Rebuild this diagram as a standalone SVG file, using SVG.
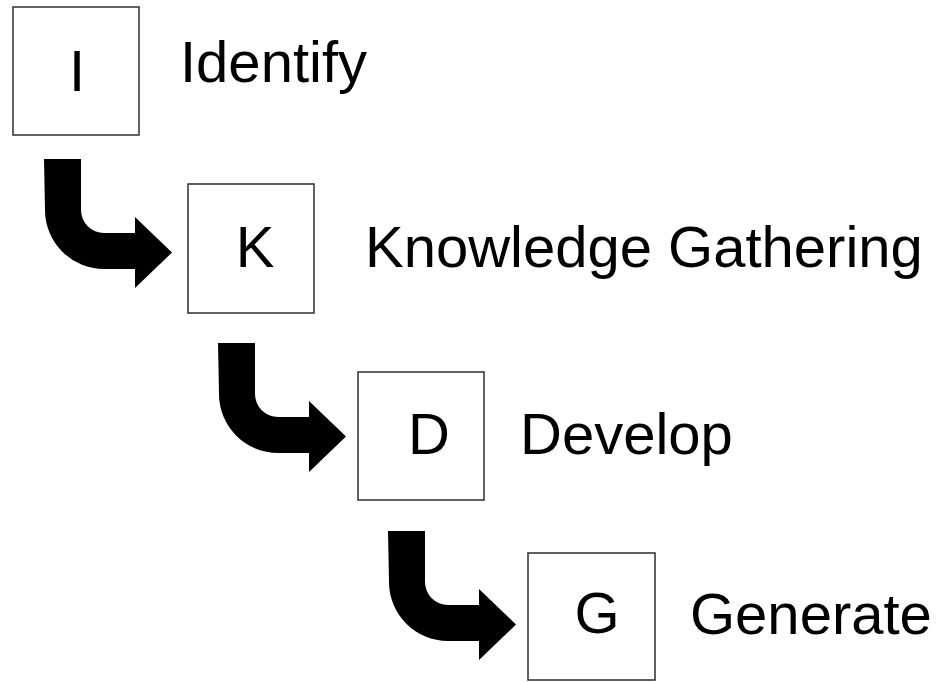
<svg xmlns="http://www.w3.org/2000/svg" width="940" height="682" viewBox="0 0 940 682">
  <defs>
    <style>
      .box { fill: #ffffff; stroke: #3a3a3a; stroke-width: 1.6; }
      .letter { font-family: "Liberation Sans", Arial, sans-serif; font-size: 58px; fill: #000; text-anchor: middle; }
      .label { font-family: "Liberation Sans", Arial, sans-serif; font-size: 58px; fill: #000; }
      .bent { fill: #000; }
    </style>
    <!-- bent arrow: stem down, rounded corner, shaft to the right, triangular head -->
    <path id="bentArrow" d="M44,159 H81 V210 A23,23 0 0 0 104,233 H135 V217 L172,252.5 L135,288 V269 H104 A59,59 0 0 1 45,210 Z"/>
  </defs>
  <rect width="940" height="682" fill="#ffffff"/>

  <g id="connectors">
    <use href="#bentArrow" class="bent"/>
    <use href="#bentArrow" class="bent" transform="translate(174,184)"/>
    <use href="#bentArrow" class="bent" transform="translate(344,372)"/>
  </g>

  <g id="node-identify">
    <rect class="box" x="13" y="7" width="126" height="128"/>
    <text class="letter" x="77" y="91">I</text>
    <text class="label" x="180" y="82">Identify</text>
  </g>

  <g id="node-knowledge">
    <rect class="box" x="188" y="184" width="126" height="129"/>
    <text class="letter" x="255" y="267">K</text>
    <text class="label" x="365" y="267">Knowledge Gathering</text>
  </g>

  <g id="node-develop">
    <rect class="box" x="358" y="372" width="126" height="128"/>
    <text class="letter" x="429" y="454">D</text>
    <text class="label" x="520" y="454">Develop</text>
  </g>

  <g id="node-generate">
    <rect class="box" x="528" y="553" width="127" height="127"/>
    <text class="letter" x="597" y="633">G</text>
    <text class="label" x="690" y="634">Generate</text>
  </g>
</svg>
